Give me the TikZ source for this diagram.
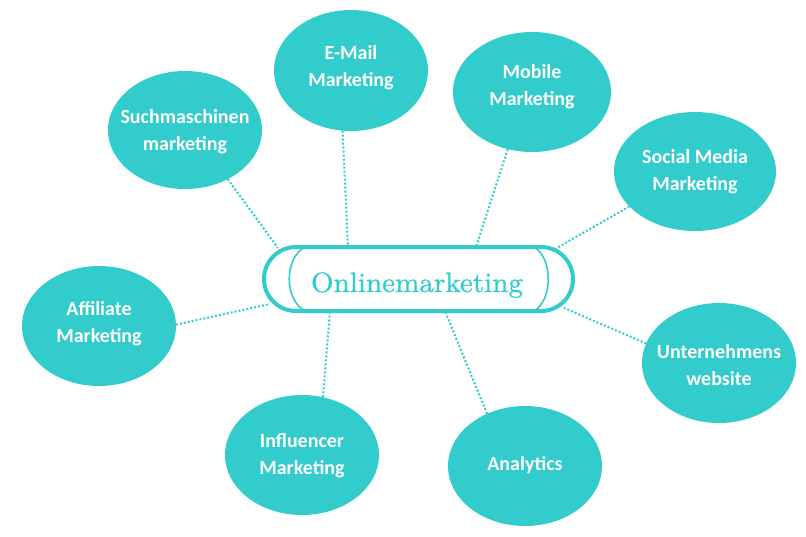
\documentclass[tikz,border=0pt]{standalone}
\usepackage{fontspec}
\newfontfamily\carlito{Carlito}
\newfontfamily\ctxtfont{lmroman10-regular}[Extension=.otf, FakeStretch=1.04, FakeBold=0.8]
\usetikzlibrary{shapes.geometric}
\definecolor{tealc}{HTML}{33CCCC}
\begin{document}
\begin{tikzpicture}[x=1pt,y=-1pt,
  bubble/.style={ellipse, fill=tealc, draw=none, inner sep=0pt, outer sep=0pt,
    minimum width=154pt, minimum height=120pt},
  btxt/.style={text=white, align=center, inner sep=0pt,
    font=\carlito\bfseries\fontsize{20}{27}\selectfont},
  link/.style={draw=tealc, line width=2pt, dash pattern=on 2pt off 2pt},
  stadium/.style={rectangle, rounded corners=32pt, draw=tealc, fill=white,
    line width=4pt, minimum width=309pt, minimum height=64pt, inner sep=0pt, outer sep=0pt},
  inarc/.style={draw=tealc, line width=1.6pt},
  ctxt/.style={text=tealc, inner sep=0pt, font=\ctxtfont\fontsize{28}{34}\selectfont}]
\useasboundingbox (0,0) rectangle (806,536);

% outer bubbles
\node[bubble, minimum height=118pt, label={[btxt, yshift=-1.5pt]center:Suchmaschinen\\marketing}] (such) at (185,130) {};
\node[bubble, minimum height=121pt, label={[btxt, yshift=3pt]center:E-Mail\\Marketing}] (email) at (351,70.5) {};
\node[bubble, minimum width=158pt, label={[btxt, yshift=5pt]center:Mobile\\Marketing}] (mobile) at (532,92) {};
\node[bubble, minimum width=162pt, minimum height=119pt, label={[btxt]center:Social Media\\Marketing}] (social) at (695,171.5) {};
\node[bubble, label={[btxt, yshift=-2pt]center:Unternehmens\\website}] (untern) at (719,363) {};
\node[bubble, label={[btxt, yshift=1pt]center:Analytics}] (analytics) at (525,466) {};
\node[bubble, label={[btxt, yshift=-1pt]center:Influencer\\Marketing}] (influencer) at (302,455) {};
\node[bubble, label={[btxt, yshift=2.5pt]center:Affiliate\\Marketing}] (affiliate) at (99,326) {};

% connector ends on the central shape
\coordinate (c1) at (278,248);
\coordinate (c2) at (348,247);
\coordinate (c3) at (476,247);
\coordinate (c4) at (555,249);
\coordinate (c5) at (564,308);
\coordinate (c6) at (445,311);
\coordinate (c7) at (330,311);
\coordinate (c8) at (270,304);

\draw[link] (such.311) -- (c1);
\draw[link] (email.262) -- (c2);
\draw[link] (mobile.247) -- (c3);
\draw[link] (social.208) -- (c4);
\draw[link] (untern.165) -- (c5);
\draw[link] (analytics.126) -- (c6);
\draw[link] (influencer.70) -- (c7);
\draw[link] (affiliate.1) -- (c8);

% central shape
\node[stadium] (online) at (418.5,279) {};
\draw[inarc] (305,247) .. controls (284,258) and (284,300) .. (305,311);
\draw[inarc] (534,247) .. controls (553,258) and (553,300) .. (534,311);
\node[ctxt, anchor=base] (onlinetext) at (417,292) {Onlinemarketing};
\end{tikzpicture}
\end{document}
